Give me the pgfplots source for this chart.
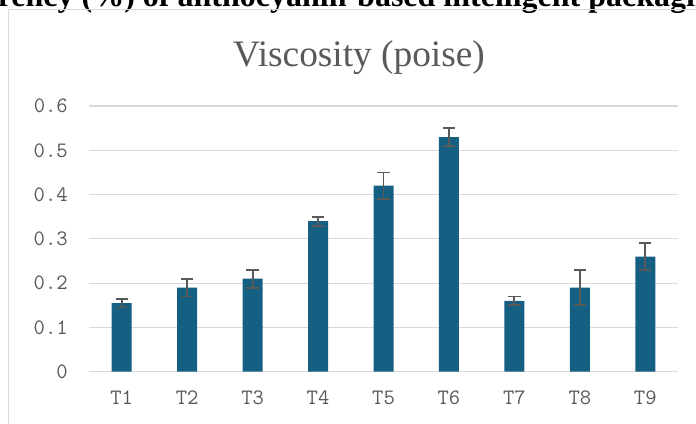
\documentclass[border=0pt]{standalone}
\usepackage{fontspec}
\setmainfont{Liberation Serif}
\usepackage{pgfplots}
\pgfplotsset{compat=1.18}
\definecolor{barblue}{HTML}{156082}
\definecolor{txtgray}{HTML}{595959}
\definecolor{gridgray}{HTML}{D9D9D9}

\begin{document}
\begin{tikzpicture}[x=0.75pt,y=0.75pt]
\useasboundingbox (0,0) rectangle (696,424);
% cropped heading of the page above the chart
\node[anchor=base west, inner sep=0pt, font=\bfseries\fontsize{24}{28}\selectfont]
  at (-2.4,417) {\llap{Transpa}rency (\%) of anthocyanin-based intelligent packaging};
% chart area frame
\draw[gridgray, line width=0.75pt] (8,-10) -- (8,414) -- (720,414);
\node[txtgray, font=\fontsize{28}{33}\selectfont, anchor=base, inner sep=0pt]
  at (359,357) {Viscosity (poise)};
\begin{axis}[
  at={(66.75pt,39.2pt)}, anchor=south west,
  scale only axis, width=441.75pt, height=199.3pt,
  xmin=-0.5, xmax=8.5, ymin=0, ymax=0.6,
  clip=false,
  axis line style={draw=none},
  major tick length=0pt,
  ymajorgrids, grid style={gridgray, line width=0.8pt},
  xtick={0,1,2,3,4,5,6,7,8},
  xticklabels={T1,T2,T3,T4,T5,T6,T7,T8,T9},
  ytick={0,0.1,0.2,0.3,0.4,0.5,0.6},
  yticklabels={0,0.1,0.2,0.3,0.4,0.5,0.6},
  ticklabel style={font=\ttfamily\fontsize{16.5}{19}\selectfont, text=txtgray, inner sep=0pt},
  yticklabel style={anchor=east, xshift=-15.75pt},
  xticklabel style={anchor=north, yshift=-14.25pt},
]
\addplot[ybar, bar width=15pt, fill=barblue, draw=none,
  error bars/.cd, y dir=both, y explicit,
  error bar style={txtgray, line width=1.4pt},
  error mark options={rotate=90, mark size=4.6pt, txtgray, line width=1.4pt}]
coordinates {
(0,0.155) +- (0,0.01)
(1,0.19) +- (0,0.02)
(2,0.21) +- (0,0.02)
(3,0.34) +- (0,0.01)
(4,0.42) +- (0,0.03)
(5,0.53) +- (0,0.02)
(6,0.16) +- (0,0.01)
(7,0.19) +- (0,0.04)
(8,0.26) +- (0,0.03)
};
\end{axis}
\end{tikzpicture}
\end{document}
